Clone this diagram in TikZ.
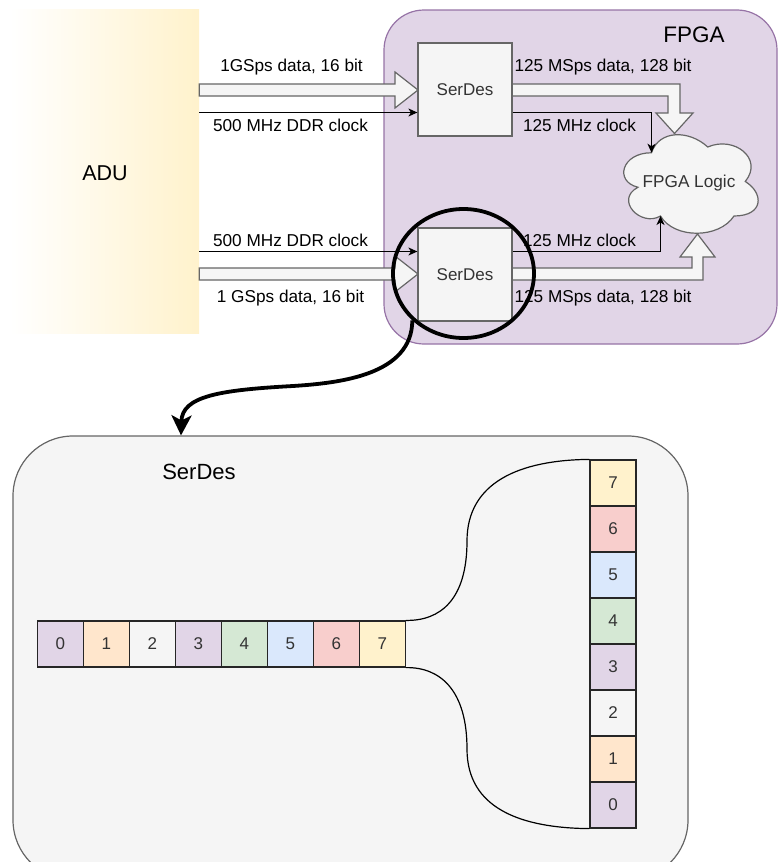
\documentclass[tikz,border=0pt]{standalone}
\usepackage{fontspec}
\setmainfont{Liberation Sans}
\usetikzlibrary{arrows.meta,calc,shapes.geometric}
\definecolor{panel}{HTML}{F5F5F5}
\definecolor{edge}{HTML}{666666}
\definecolor{fpgafill}{HTML}{E1D5E7}
\definecolor{fpgaedge}{HTML}{9673A6}
\definecolor{aduyellow}{HTML}{FFF2CC}
\definecolor{txt}{HTML}{333333}
\definecolor{cpurple}{HTML}{E1D5E7}
\definecolor{corange}{HTML}{FFE6CC}
\definecolor{cgreen}{HTML}{D5E8D4}
\definecolor{cblue}{HTML}{DAE8FC}
\definecolor{cred}{HTML}{F8CECC}
\definecolor{cyellow}{HTML}{FFF2CC}
\begin{document}
\begin{tikzpicture}[x=1pt,y=-1pt,
  lbl/.style={inner sep=0, font=\fontsize{17.2}{20}\selectfont},
  big/.style={inner sep=0, font=\fontsize{22.5}{26}\selectfont},
  serdesbox/.style={draw=edge, fill=panel, line width=1.2, minimum width=94, minimum height=93, inner sep=0, text=txt, font=\fontsize{17}{20}\selectfont},
  flex/.style={draw=edge, fill=panel, line width=1.2, line join=miter},
  clk/.style={line width=1.2, -{Stealth[length=9,width=8,inset=2.5]}},
  cell/.style={draw=black!85, line width=1.2, minimum width=46, minimum height=46, inner sep=0, text=txt, font=\fontsize{17}{20}\selectfont},
  bus/.style={line width=1.2},
]
\clip (0,0) rectangle (778,862);

% ADU source block
\node[minimum width=189, minimum height=324, inner sep=0, left color=white, right color=aduyellow] (adu) at (104.5,171) {};
\node[big, font=\fontsize{21.5}{25}\selectfont] (adulbl) at (105,173) {ADU};

% FPGA area
\node[draw=fpgaedge, fill=fpgafill, rounded corners=40, line width=1.2, minimum width=393, minimum height=334, inner sep=0] (fpga) at (580.5,177) {};
\node[big] (fpgalbl) at (694,35) {FPGA};

% wide data arrows into the SerDes blocks
\draw[flex] (adu.east |- 0,84) -- (395,84) -- (395,72) -- (418,90) -- (395,108) -- (395,96) -- (adu.east |- 0,96) -- cycle;
\draw[flex] (adu.east |- 0,268) -- (395,268) -- (395,256) -- (418,274) -- (395,292) -- (395,280) -- (adu.east |- 0,280) -- cycle;

% wide data arrows into the logic
\draw[flex] (512,84) -- (680,84) -- (680,113) -- (693,113) -- (674.5,133.5) -- (656,113) -- (668,113) -- (668,96) -- (512,96) -- cycle;
\draw[flex] (512,280) -- (703,280) -- (703,257) -- (715,257) -- (697.5,234) -- (680,257) -- (692,257) -- (692,268) -- (512,268) -- cycle;

% SerDes blocks
\node[serdesbox] (s1) at (465,89.5) {SerDes};
\node[serdesbox] (s2) at (465,274.5) {SerDes};

% FPGA logic cloud
\begin{scope}[shift={(614,124)}, x=150pt, y=-115pt]
  \draw[draw=edge, fill=panel, line width=1.2]
    (0.25,0.25) .. controls (0.05,0.25) and (0,0.5) .. (0.16,0.55)
    .. controls (0,0.66) and (0.18,0.9) .. (0.31,0.8)
    .. controls (0.4,1) and (0.7,1) .. (0.8,0.8)
    .. controls (1,0.8) and (1,0.6) .. (0.875,0.5)
    .. controls (1,0.3) and (0.8,0.1) .. (0.625,0.2)
    .. controls (0.5,0.05) and (0.3,0.05) .. (0.25,0.25) -- cycle;
  \coordinate (cusptop) at (0.25,0.25);
  \coordinate (cuspbot) at (0.31,0.8);
\end{scope}
\node[lbl, text=txt] (logic) at (689,183) {FPGA Logic};

% clock lines
\draw[clk] (adu.east |- 0,112.5) -- (s1.west |- 0,112.5);
\draw[clk] (adu.east |- 0,251.5) -- (s2.west |- 0,251.5);
\draw[clk] (s1.east |- 0,112.5) -| (cusptop);
\draw[clk] (s2.east |- 0,251.5) -| (cuspbot);

% labels
\node[lbl] (t1) at (291.5,67) {1GSps data, 16 bit};
\node[lbl] (t2) at (290.5,125) {500 MHz DDR clock};
\node[lbl] (t3) at (603,67) {125 MSps data, 128 bit};
\node[lbl] (t4) at (579.5,125) {125 MHz clock};
\node[lbl] (t5) at (290.5,240) {500 MHz DDR clock};
\node[lbl] (t6) at (579.5,240) {125 MHz clock};
\node[lbl] (t7) at (290.5,298) {1 GSps data, 16 bit};
\node[lbl] (t8) at (603,298) {125 MSps data, 128 bit};

% magnifier ring round the lower SerDes
\node[ellipse, draw=black, line width=3.8, minimum width=141, minimum height=129, inner sep=0] (lens) at (463.5,273.5) {};

% zoomed SerDes panel
\node[draw=edge, fill=panel, rounded corners=60, line width=1.2, minimum width=675, minimum height=444, inner sep=0] (zoom) at (350.5,658) {};
\node[big, font=\fontsize{22}{26}\selectfont] (zoomlbl) at (199,472) {SerDes};

\draw[line width=3.8, -{Stealth[length=20,width=20,inset=5]}] (lens.south west)
  .. controls (412,375) and (340,383) .. (293,386)
  .. controls (220,390) and (182,396) .. (181,0 |- zoom.north);

% serial word and parallel word
\foreach \i/\c in {0/cpurple,1/corange,2/panel,3/cpurple,4/cgreen,5/cblue,6/cred,7/cyellow} {
  \node[cell, fill=\c] (h\i) at ({60.3+46*\i},644) {\i};
  \node[cell, fill=\c] (v\i) at (613,{805-46*\i}) {\i};
}
\draw[bus] (h7.north east) .. controls (440,621) and (467,600) .. (467,541)
  .. controls (467,482) and (520,460) .. (v7.north west);
\draw[bus] (h7.south east) .. controls (440,667) and (467,690) .. (467,749)
  .. controls (467,808) and (520,828) .. (v0.south west);
\end{tikzpicture}
\end{document}
